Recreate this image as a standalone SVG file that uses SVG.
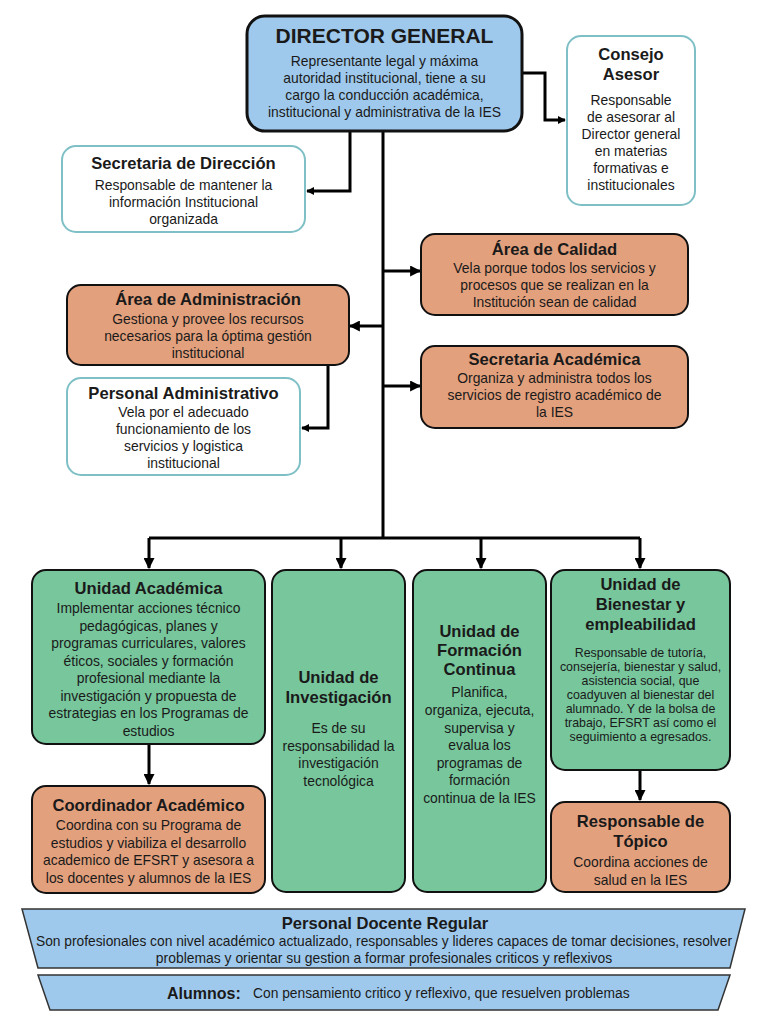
<svg xmlns="http://www.w3.org/2000/svg" width="768" height="1030" viewBox="0 0 768 1030">
<style>
text{font-family:"Liberation Sans",Arial,sans-serif;fill:#1a1a1a;text-anchor:middle}
.t{font-weight:bold;font-size:16.6px}
.b{font-size:13.9px}
.s{font-size:12.4px}
.blue{fill:#9fc9ec;stroke:#111;stroke-width:3}
.org{fill:#e3a07d;stroke:#111;stroke-width:2}
.grn{fill:#77c69c;stroke:#111;stroke-width:2}
.wht{fill:#fff;stroke:#7fc0c6;stroke-width:2}
.band{fill:#9fc9ec;stroke:#333;stroke-width:1.5}
.c{fill:none;stroke:#000;stroke-width:3}
</style>
<defs>
<marker id="ah" viewBox="0 0 10 10" refX="9" refY="5" markerWidth="11" markerHeight="11" markerUnits="userSpaceOnUse" orient="auto">
<path d="M0,0 L10,5 L0,10 z" fill="#000"/>
</marker>
<marker id="ahs" viewBox="0 0 10 10" refX="9" refY="5" markerWidth="8" markerHeight="8" markerUnits="userSpaceOnUse" orient="auto">
<path d="M0,0 L10,5 L0,10 z" fill="#000"/>
</marker>
</defs>
<rect width="768" height="1030" fill="#fff"/>
<g id="connectors">
<path class="c" d="M522,73 H545 V120 H565" stroke-width="2" marker-end="url(#ahs)"/>
<path class="c" d="M350,131 V191 H307" stroke-width="2" marker-end="url(#ahs)"/>
<path class="c" d="M383,131 V538"/>
<path class="c" d="M383,271 H420" marker-end="url(#ah)"/>
<path class="c" d="M383,326 H350" marker-end="url(#ah)"/>
<path class="c" d="M383,386 H420" marker-end="url(#ah)"/>
<path class="c" d="M328,365 V428 H302" stroke-width="2" marker-end="url(#ahs)"/>
<path class="c" d="M149,538 H640"/>
<path class="c" d="M149,538 V568" marker-end="url(#ah)"/>
<path class="c" d="M341,538 V568" marker-end="url(#ah)"/>
<path class="c" d="M481,538 V568" marker-end="url(#ah)"/>
<path class="c" d="M640,538 V568" marker-end="url(#ah)"/>
<path class="c" d="M149,744 V784" marker-end="url(#ah)"/>
<path class="c" d="M640,770 V800" marker-end="url(#ah)"/>
</g>
<g id="director">
<rect class="blue" x="247" y="16" width="275" height="115" rx="18"/>
<text x="384.5" y="43" style="font-weight:bold;font-size:21px">DIRECTOR GENERAL</text>
<text class="b" x="384.5" y="66">Representante legal y máxima</text>
<text class="b" x="384.5" y="83">autoridad institucional, tiene a su</text>
<text class="b" x="384.5" y="100">cargo la conducción académica,</text>
<text class="b" x="384.5" y="117">institucional y administrativa de la IES</text>
</g>
<g id="consejo">
<rect class="wht" x="567" y="36" width="128" height="169" rx="14"/>
<text class="t" x="631" y="60">Consejo</text>
<text class="t" x="631" y="80">Asesor</text>
<text class="b" x="631" y="105">Responsable</text>
<text class="b" x="631" y="122">de asesorar al</text>
<text class="b" x="631" y="139">Director general</text>
<text class="b" x="631" y="156">en materias</text>
<text class="b" x="631" y="173">formativas e</text>
<text class="b" x="631" y="190">institucionales</text>
</g>
<g id="secretaria-direccion">
<rect class="wht" x="62" y="146" width="243" height="86" rx="14"/>
<text class="t" x="183.5" y="169">Secretaria de Dirección</text>
<text class="b" x="183.5" y="190">Responsable de mantener la</text>
<text class="b" x="183.5" y="207">información Institucional</text>
<text class="b" x="183.5" y="224">organizada</text>
</g>
<g id="area-calidad">
<rect class="org" x="421" y="234" width="267" height="81" rx="14"/>
<text class="t" x="554.5" y="255">Área de Calidad</text>
<text class="b" x="554.5" y="273">Vela porque todos los servicios y</text>
<text class="b" x="554.5" y="290">procesos que se realizan en la</text>
<text class="b" x="554.5" y="307">Institución sean de calidad</text>
</g>
<g id="area-administracion">
<rect class="org" x="67" y="285" width="282" height="80" rx="14"/>
<text class="t" x="208" y="305">Área de Administración</text>
<text class="b" x="208" y="324">Gestiona y provee los recursos</text>
<text class="b" x="208" y="341">necesarios para la óptima gestión</text>
<text class="b" x="208" y="358">institucional</text>
</g>
<g id="secretaria-academica">
<rect class="org" x="421" y="346" width="267" height="82" rx="14"/>
<text class="t" x="554.5" y="365">Secretaria Académica</text>
<text class="b" x="554.5" y="383">Organiza y administra todos los</text>
<text class="b" x="554.5" y="400">servicios de registro académico de</text>
<text class="b" x="554.5" y="417">la IES</text>
</g>
<g id="personal-administrativo">
<rect class="wht" x="67" y="378" width="233" height="97" rx="14"/>
<text class="t" x="183.5" y="399">Personal Administrativo</text>
<text class="b" x="183.5" y="417">Vela por el adecuado</text>
<text class="b" x="183.5" y="434">funcionamiento de los</text>
<text class="b" x="183.5" y="451">servicios y logistica</text>
<text class="b" x="183.5" y="468">institucional</text>
</g>
<g id="unidad-academica">
<rect class="grn" x="32" y="570" width="233" height="174" rx="14"/>
<text class="t" x="148.5" y="594">Unidad Académica</text>
<text class="b" x="148.5" y="613">Implementar acciones técnico</text>
<text class="b" x="148.5" y="630.5">pedagógicas, planes y</text>
<text class="b" x="148.5" y="648">programas curriculares, valores</text>
<text class="b" x="148.5" y="665.5">éticos, sociales y formación</text>
<text class="b" x="148.5" y="683">profesional mediante la</text>
<text class="b" x="148.5" y="700.5">investigación y propuesta de</text>
<text class="b" x="148.5" y="718">estrategias en los Programas de</text>
<text class="b" x="148.5" y="735.5">estudios</text>
</g>
<g id="unidad-investigacion">
<rect class="grn" x="272" y="570" width="133" height="322" rx="14"/>
<text class="t" x="338.5" y="683">Unidad de</text>
<text class="t" x="338.5" y="703">Investigación</text>
<text class="b" x="338.5" y="733">Es de su</text>
<text class="b" x="338.5" y="751">responsabilidad la</text>
<text class="b" x="338.5" y="768">investigación</text>
<text class="b" x="338.5" y="786">tecnológica</text>
</g>
<g id="unidad-formacion">
<rect class="grn" x="413" y="570" width="133" height="322" rx="14"/>
<text class="t" x="479.5" y="637">Unidad de</text>
<text class="t" x="479.5" y="656">Formación</text>
<text class="t" x="479.5" y="675">Continua</text>
<text class="b" x="479.5" y="697">Planifica,</text>
<text class="b" x="479.5" y="715">organiza, ejecuta,</text>
<text class="b" x="479.5" y="732.5">supervisa y</text>
<text class="b" x="479.5" y="750">evalua los</text>
<text class="b" x="479.5" y="767.5">programas de</text>
<text class="b" x="479.5" y="785">formación</text>
<text class="b" x="479.5" y="802.5">continua de la IES</text>
</g>
<g id="unidad-bienestar">
<rect class="grn" x="551" y="570" width="179" height="200" rx="14"/>
<text class="t" x="640.5" y="590">Unidad de</text>
<text class="t" x="640.5" y="610">Bienestar y</text>
<text class="t" x="640.5" y="630">empleabilidad</text>
<text class="s" x="640.5" y="657">Responsable de tutoría,</text>
<text class="s" x="640.5" y="671">consejería, bienestar y salud,</text>
<text class="s" x="640.5" y="685">asistencia social, que</text>
<text class="s" x="640.5" y="699">coadyuven al bienestar del</text>
<text class="s" x="640.5" y="713">alumnado. Y de la bolsa de</text>
<text class="s" x="640.5" y="727">trabajo, EFSRT así como el</text>
<text class="s" x="640.5" y="741">seguimiento a egresados.</text>
</g>
<g id="coordinador-academico">
<rect class="org" x="32" y="786" width="233" height="107" rx="14"/>
<text class="t" x="148.5" y="811">Coordinador Académico</text>
<text class="b" x="148.5" y="830">Coordina con su Programa de</text>
<text class="b" x="148.5" y="847.5">estudios y viabiliza el desarrollo</text>
<text class="b" x="148.5" y="865">academico de EFSRT y asesora a</text>
<text class="b" x="148.5" y="882.5">los docentes y alumnos de la IES</text>
</g>
<g id="responsable-topico">
<rect class="org" x="551" y="802" width="179" height="90" rx="14"/>
<text class="t" x="640.5" y="827">Responsable de</text>
<text class="t" x="640.5" y="847">Tópico</text>
<text class="b" x="640.5" y="867">Coordina acciones de</text>
<text class="b" x="640.5" y="885">salud en la IES</text>
</g>
<g id="personal-docente">
<polygon class="band" points="22,909 745,909 730,968 38,968"/>
<text class="t" x="385" y="929">Personal Docente Regular</text>
<text class="b" x="384" y="946" textLength="696" lengthAdjust="spacingAndGlyphs">Son profesionales con nivel académico actualizado, responsables y lideres capaces de tomar decisiones, resolver</text>
<text class="b" x="384" y="963">problemas y orientar su gestion a formar profesionales criticos y reflexivos</text>
</g>
<g id="alumnos">
<polygon class="band" points="38,975 730,975 718,1010 50,1010"/>
<text x="167" y="999" style="font-weight:bold;font-size:16px;text-anchor:start">Alumnos:</text>
<text x="253" y="998" style="font-size:13.8px;text-anchor:start">Con pensamiento critico y reflexivo, que resuelven problemas</text>
</g>
</svg>
